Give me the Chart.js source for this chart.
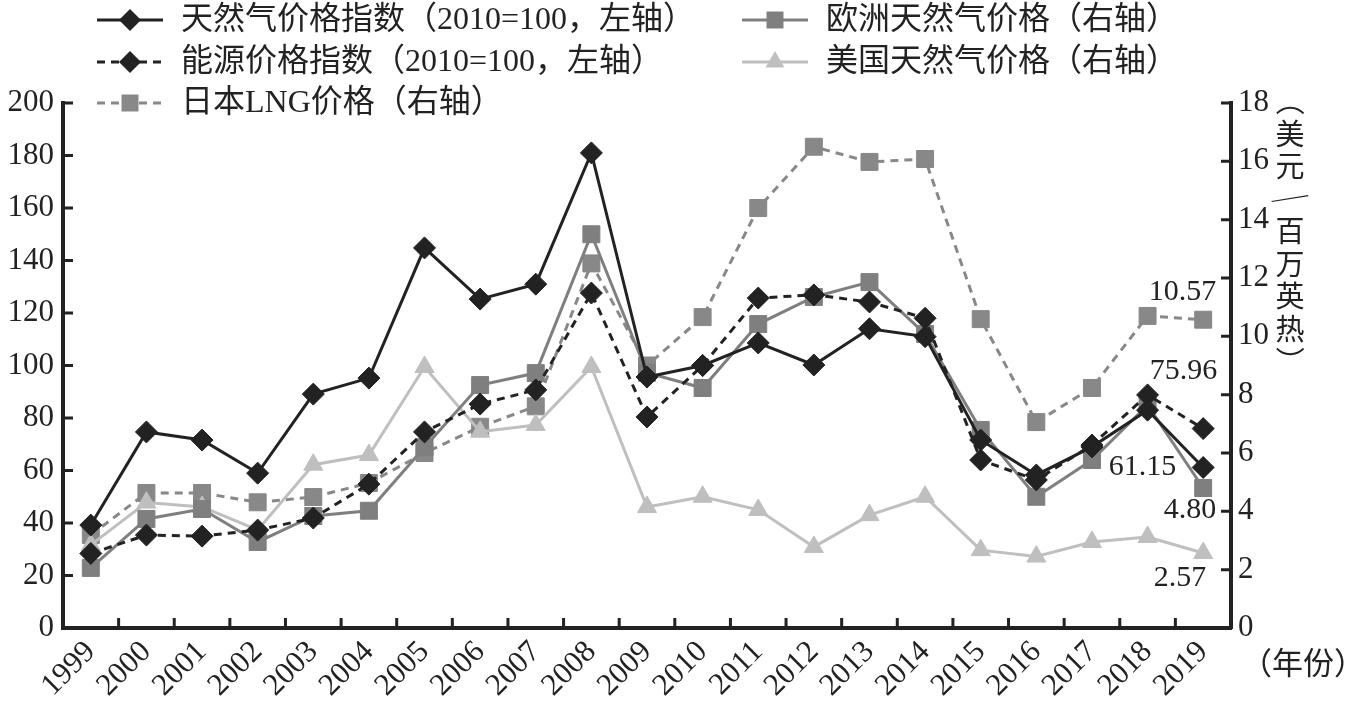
<!DOCTYPE html>
<html>
<head>
<meta charset="utf-8">
<script src="https://cdn.jsdelivr.net/npm/chart.js@4.4.1/dist/chart.umd.min.js"></script>
<style>
  html, body { margin: 0; padding: 0; background: #fff; }
  #wrap { width: 1360px; height: 704px; }
</style>
</head>
<body>
<div id="wrap"><canvas id="chart" width="1360" height="704"></canvas></div>
<script>
/* ── Datos ─────────────────────────────────── */
const years = ["1999", "2000", "2001", "2002", "2003", "2004", "2005", "2006", "2007", "2008",
  "2009", "2010", "2011", "2012", "2013", "2014", "2015", "2016", "2017", "2018", "2019"];

// 左轴 (2010=100)
const gasIndex    = [39.2, 74.7, 71.6, 59.0, 89.1, 95.2, 144.8, 125.3, 131.0, 181.0, 95.6, 100.0, 108.6, 100.2, 114.0, 111.0, 71.6, 58.3, 69.0, 83.0, 61.15];
const energyIndex = [28.4, 35.4, 35.0, 37.3, 41.9, 54.8, 74.7, 85.3, 90.7, 127.6, 80.4, 100.0, 125.7, 126.9, 124.2, 118.0, 64.0, 56.4, 69.7, 88.8, 75.96];

// 右轴 (美元/百万英热)
const europeGas = [2.06, 3.74, 4.08, 2.95, 3.84, 4.02, 6.2, 8.33, 8.74, 13.5, 8.75, 8.23, 10.42, 11.35, 11.86, 10.08, 6.79, 4.5, 5.76, 7.64, 4.80];
const usGas     = [2.85, 4.3, 4.15, 3.36, 5.6, 5.93, 8.95, 6.73, 6.96, 8.95, 4.15, 4.5, 4.05, 2.78, 3.87, 4.5, 2.67, 2.45, 2.95, 3.12, 2.57];
const japanLng  = [3.19, 4.63, 4.63, 4.31, 4.49, 4.97, 6.0, 6.9, 7.6, 12.5, 9.0, 10.66, 14.4, 16.5, 15.98, 16.08, 10.59, 7.06, 8.23, 10.7, 10.57];

const leftMax = 200, leftStep = 20;
const rightMax = 18, rightStep = 2;
const endLabels = ["61.15", "75.96", "4.80", "2.57", "10.57"];   // por dataset
const rightTitle = ["（", "美", "元", "／", "百", "万", "英", "热", "）"];
const xTitle = "（年份）";

/* ── Estilos ───────────────────────────────── */
const SERIF = "'Liberation Serif', 'Noto Sans CJK SC', serif";
const INK = "#222";

// legend slot per dataset: sample start x, row y
const legendSlots = [
  { x: 97, y: 20 }, { x: 97, y: 62 }, { x: 742, y: 20 }, { x: 742, y: 62 }, { x: 97, y: 103 },
];
const labelOffsets = [
  { dx: -27, dy: 0 }, { dx: 14, dy: -57 }, { dx: 13, dy: 22 }, { dx: 3, dy: 25 }, { dx: 13, dy: -28 },
];

function series(label, data, axis, color, style, radius, dash, order) {
  return {
    label, data, yAxisID: axis,
    borderColor: color, backgroundColor: color,
    pointBackgroundColor: color, pointBorderColor: color,
    borderWidth: 3, borderDash: dash,
    pointStyle: style, pointRadius: radius, pointHoverRadius: radius, pointBorderWidth: 1,
    tension: 0, order,
  };
}

const datasets = [
  series("天然气价格指数（2010=100，左轴）", gasIndex, "y", INK, "rectRot", 11, [], 0),
  series("能源价格指数（2010=100，左轴）", energyIndex, "y", INK, "rectRot", 11, [8, 6], 1),
  series("欧洲天然气价格（右轴）", europeGas, "y1", "#7f7f7f", "rect", 12, [], 2),
  series("美国天然气价格（右轴）", usGas, "y1", "#bfbfbf", "triangle", 11, [], 3),
  series("日本LNG价格（右轴）", japanLng, "y1", "#888888", "rect", 12, [8, 6], 4),
];

/* ── Marcadores propios para la leyenda ─────── */
function marker(ctx, style, r, x, y) {
  ctx.beginPath();
  if (style === "rectRot") {
    ctx.moveTo(x - r, y); ctx.lineTo(x, y - r); ctx.lineTo(x + r, y); ctx.lineTo(x, y + r);
  } else if (style === "rect") {
    const s = r * Math.SQRT1_2;
    ctx.rect(x - s, y - s, 2 * s, 2 * s);
  } else {
    const a = Math.PI * 2 / 3;
    for (let k = 0; k < 3; k++) {
      const px = x + Math.sin(k * a) * r, py = y - Math.cos(k * a) * r;
      k ? ctx.lineTo(px, py) : ctx.moveTo(px, py);
    }
  }
  ctx.closePath();
  ctx.fill();
}

const decorations = {
  id: "decorations",
  afterDraw(chart) {
    const { ctx, chartArea: area, scales } = chart;
    ctx.save();

    /* ticks hacia adentro */
    ctx.strokeStyle = INK;
    ctx.lineWidth = 3;
    ctx.beginPath();
    scales.y.ticks.forEach((t) => {
      const py = scales.y.getPixelForValue(t.value);
      if (t.value === 0) return;
      ctx.moveTo(area.left, py); ctx.lineTo(area.left + 10, py);
    });
    scales.y1.ticks.forEach((t) => {
      const py = scales.y1.getPixelForValue(t.value);
      if (t.value === 0) return;
      ctx.moveTo(area.right, py); ctx.lineTo(area.right - 10, py);
    });
    for (let i = 0; i < years.length - 1; i++) {
      const px = (scales.x.getPixelForTick(i) + scales.x.getPixelForTick(i + 1)) / 2;
      ctx.moveTo(px, area.bottom); ctx.lineTo(px, area.bottom - 10);
    }
    ctx.stroke();

    /* etiquetas finales */
    ctx.fillStyle = INK;
    ctx.font = "30px " + SERIF;
    ctx.textAlign = "right";
    ctx.textBaseline = "middle";
    chart.data.datasets.forEach((ds, i) => {
      const last = ds.data.length - 1;
      const px = scales.x.getPixelForValue(last);
      const py = scales[ds.yAxisID].getPixelForValue(ds.data[last]);
      ctx.fillText(endLabels[i], px + labelOffsets[i].dx, py + labelOffsets[i].dy);
    });

    /* título eje derecho (vertical, caracteres apilados) */
    ctx.textAlign = "center";
    ctx.font = "29px 'Noto Sans CJK SC'";
    const tx = area.right + 59;
    rightTitle.forEach((ch, k) => {
      const cy = area.top - 2 + k * 32.5;
      const turn = ch === "（" || ch === "）" ? Math.PI / 2 : ch === "／" ? Math.PI / 5 : 0;
      ctx.save();
      ctx.translate(tx, cy);
      ctx.rotate(turn);
      ctx.fillText(ch, 0, 0);
      ctx.restore();
    });

    /* título eje x */
    ctx.textAlign = "left";
    ctx.font = "31px " + SERIF;
    ctx.fillText(xTitle, area.right + 10, area.bottom + 38);

    /* leyenda */
    ctx.font = "32px " + SERIF;
    chart.data.datasets.forEach((ds, i) => {
      const slot = legendSlots[i];
      ctx.strokeStyle = ds.borderColor;
      ctx.fillStyle = ds.borderColor;
      ctx.lineWidth = 3;
      ctx.setLineDash(ds.borderDash);
      ctx.beginPath();
      ctx.moveTo(slot.x, slot.y); ctx.lineTo(slot.x + 66, slot.y);
      ctx.stroke();
      ctx.setLineDash([]);
      marker(ctx, ds.pointStyle, ds.pointRadius, slot.x + 33, slot.y);
      ctx.fillStyle = INK;
      ctx.fillText(ds.label, slot.x + 84, slot.y + 1);
    });

    ctx.restore();
  },
};

/* ── Chart ─────────────────────────────────── */
new Chart(document.getElementById("chart"), {
  type: "line",
  data: { labels: years, datasets },
  options: {
    responsive: false,
    animation: false,
    layout: { padding: { top: 103, left: 0, right: 0, bottom: 0 } },
    scales: {
      x: {
        offset: true,
        grid: { display: false, drawTicks: false },
        border: { display: true, color: INK, width: 4 },
        ticks: {
          color: INK, font: { family: SERIF, size: 31 },
          maxRotation: 45, minRotation: 45, autoSkip: false, padding: 6,
        },
        afterFit: (s) => { s.height = 76; },
      },
      y: {
        position: "left", min: 0, max: leftMax,
        grid: { display: false, drawTicks: false },
        border: { display: true, color: INK, width: 4 },
        ticks: { stepSize: leftStep, color: INK, font: { family: SERIF, size: 31 }, padding: 9 },
        afterFit: (s) => { s.width = 63; },
      },
      y1: {
        position: "right", min: 0, max: rightMax,
        grid: { display: false, drawTicks: false },
        border: { display: true, color: INK, width: 4 },
        ticks: { stepSize: rightStep, color: INK, font: { family: SERIF, size: 31 }, padding: 7 },
        afterFit: (s) => { s.width = 129; },
      },
    },
    plugins: { legend: { display: false }, tooltip: { enabled: false } },
  },
  plugins: [decorations],
});
</script>
</body>
</html>
